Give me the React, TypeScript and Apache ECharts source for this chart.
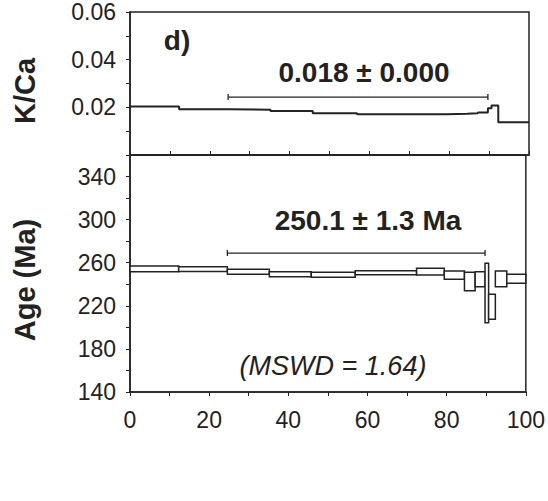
import React, { useEffect, useRef } from "react";
import * as echarts from "echarts";

// Step boundaries (cumulative % 39Ar released)
const stepStart = [0, 12.3, 24.6, 35.2, 45.8, 56.9, 72.4, 79.4, 84.5, 87.2, 89.7, 90.6, 92.3, 95.2];
const stepEnd = [12.3, 24.6, 35.2, 45.8, 56.9, 72.4, 79.4, 84.5, 87.2, 89.7, 90.6, 92.3, 95.2, 100];
// Apparent age error boxes (Ma)
const ageLow = [251.7, 251.9, 249.2, 247.0, 246.5, 248.9, 248.6, 244.6, 234.0, 237.8, 204.3, 207.5, 237.7, 240.9];
const ageHigh = [257.0, 256.3, 253.9, 251.7, 251.1, 252.6, 254.8, 252.3, 251.1, 251.7, 259.5, 230.7, 252.3, 249.2];
// K/Ca per step
const kca = [0.0203, 0.0192, 0.019, 0.0185, 0.0175, 0.0171, 0.0171, 0.0173, 0.0175, 0.0178, 0.0196, 0.0208, 0.0137, 0.0137];
// Plateau
const plateauStart = 24.6;
const plateauEnd = 89.7;
const plateauKcaLevel = 0.0243;
const plateauAgeLevel = 269;
const kcaTicks = [0.02, 0.04, 0.06];
const ageTicks = [140, 180, 220, 260, 300, 340];
const xTicks = [0, 20, 40, 60, 80, 100];

const INK = "#222";
const FONT = "'Liberation Sans', Arial, sans-serif";

export default function App() {
  const ref = useRef<HTMLDivElement>(null);
  useEffect(() => {
    if (!ref.current) return;
    const chart = echarts.init(ref.current, undefined, { renderer: "svg" });

    const kcaLine: number[][] = stepStart.map((s, i) => [s, kca[i]]);
    kcaLine.push([100, kca[kca.length - 1]]);
    const boxes = stepStart.map((s, i) => [s, stepEnd[i], ageLow[i], ageHigh[i]]);

    const bracketRender = (params: any, api: any) => {
      const a = api.coord([api.value(0), api.value(2)]);
      const b = api.coord([api.value(1), api.value(2)]);
      const st = { stroke: INK, lineWidth: 1.3 };
      return {
        type: "group",
        children: [
          { type: "line", shape: { x1: a[0], y1: a[1], x2: b[0], y2: b[1] }, style: st },
          { type: "line", shape: { x1: a[0], y1: a[1] - 3, x2: a[0], y2: a[1] + 3 }, style: st },
          { type: "line", shape: { x1: b[0], y1: b[1] - 3, x2: b[0], y2: b[1] + 3 }, style: st },
        ],
      };
    };

    const labelStyle = { color: INK, fontSize: 23, fontFamily: FONT };

    chart.setOption({
      animation: false,
      grid: [
        { left: 130, top: 12, width: 399, height: 143, show: true, borderColor: INK, borderWidth: 1.5, backgroundColor: "transparent" },
        { left: 130, top: 155, width: 399, height: 237, show: true, borderColor: INK, borderWidth: 1.5, backgroundColor: "transparent" },
      ],
      xAxis: [
        {
          type: "value", gridIndex: 0, min: 0, max: 100, interval: 10,
          axisLine: { show: true, lineStyle: { color: INK, width: 1.5 } },
          axisTick: { show: true, inside: true, length: 4, lineStyle: { color: INK } },
          axisLabel: { show: false },
          splitLine: { show: false },
        },
        {
          type: "value", gridIndex: 1, min: 0, max: 100, interval: 10,
          axisLine: { show: true, lineStyle: { color: INK, width: 1.5 } },
          axisTick: { show: true, length: 4, lineStyle: { color: INK } },
          axisLabel: {
            ...labelStyle, margin: 16,
            formatter: (v: number) => (xTicks.indexOf(Math.round(v)) >= 0 ? String(Math.round(v)) : ""),
          },
          splitLine: { show: false },
        },
      ],
      yAxis: [
        {
          type: "value", gridIndex: 0, min: 0, max: 0.06, interval: 0.01,
          axisLine: { show: true, lineStyle: { color: INK, width: 1.5 } },
          axisTick: { show: true, length: 4, lineStyle: { color: INK } },
          axisLabel: {
            ...labelStyle, margin: 14, padding: [8, 0, 0, 0],
            formatter: (v: number) => {
              const r = Math.round(v * 100) / 100;
              return kcaTicks.some((t) => Math.abs(t - r) < 1e-9) ? r.toFixed(2) : "";
            },
          },
          splitLine: { show: false },
        },
        {
          type: "value", gridIndex: 1, min: 140, max: 360, interval: 20,
          axisLine: { show: true, lineStyle: { color: INK, width: 1.5 } },
          axisTick: { show: true, length: 4, lineStyle: { color: INK } },
          axisLabel: {
            ...labelStyle, margin: 14, padding: [10, 0, 0, 0],
            formatter: (v: number) => (ageTicks.indexOf(Math.round(v)) >= 0 ? String(Math.round(v)) : ""),
          },
          splitLine: { show: false },
        },
      ],
      series: [
        {
          type: "line", xAxisIndex: 0, yAxisIndex: 0, step: "end", data: kcaLine,
          showSymbol: false, lineStyle: { color: INK, width: 2 }, z: 3,
        },
        {
          type: "custom", xAxisIndex: 0, yAxisIndex: 0,
          data: [[plateauStart, plateauEnd, plateauKcaLevel]],
          encode: { x: [0, 1], y: 2 },
          renderItem: bracketRender,
        },
        {
          type: "custom", xAxisIndex: 1, yAxisIndex: 1, data: boxes,
          encode: { x: [0, 1], y: [2, 3] },
          renderItem: (params: any, api: any) => {
            const p0 = api.coord([api.value(0), api.value(3)]);
            const p1 = api.coord([api.value(1), api.value(2)]);
            return {
              type: "rect",
              shape: { x: p0[0], y: p0[1], width: p1[0] - p0[0], height: p1[1] - p0[1] },
              style: { fill: "#fff", stroke: INK, lineWidth: 1.5 },
            };
          },
          z: 3,
        },
        {
          type: "custom", xAxisIndex: 1, yAxisIndex: 1,
          data: [[plateauStart, plateauEnd, plateauAgeLevel]],
          encode: { x: [0, 1], y: 2 },
          renderItem: bracketRender,
        },
      ],
      graphic: [
        { type: "text", x: 177, y: 40, style: { text: "d)", fill: INK, font: `bold 28px ${FONT}`, align: "center", verticalAlign: "middle" } },
        { type: "text", x: 364, y: 72, style: { text: "0.018 ± 0.000", fill: INK, font: `bold 28px ${FONT}`, align: "center", verticalAlign: "middle" } },
        { type: "text", x: 368, y: 220, style: { text: "250.1 ± 1.3 Ma", fill: INK, font: `bold 28px ${FONT}`, align: "center", verticalAlign: "middle" } },
        { type: "text", x: 333, y: 366, style: { text: "(MSWD = 1.64)", fill: INK, font: `italic 27px ${FONT}`, align: "center", verticalAlign: "middle" } },
        { type: "text", x: 25, y: 91, rotation: Math.PI / 2, style: { text: "K/Ca", fill: INK, font: `bold 29px ${FONT}`, align: "center", verticalAlign: "middle" } },
        { type: "text", x: 25, y: 280, rotation: Math.PI / 2, style: { text: "Age (Ma)", fill: INK, font: `bold 29px ${FONT}`, align: "center", verticalAlign: "middle" } },
      ],
    });
    return () => chart.dispose();
  }, []);
  return <div ref={ref} style={{ position: "fixed", left: 0, top: 0, width: 548, height: 501, background: "#fff" }} />;
}
